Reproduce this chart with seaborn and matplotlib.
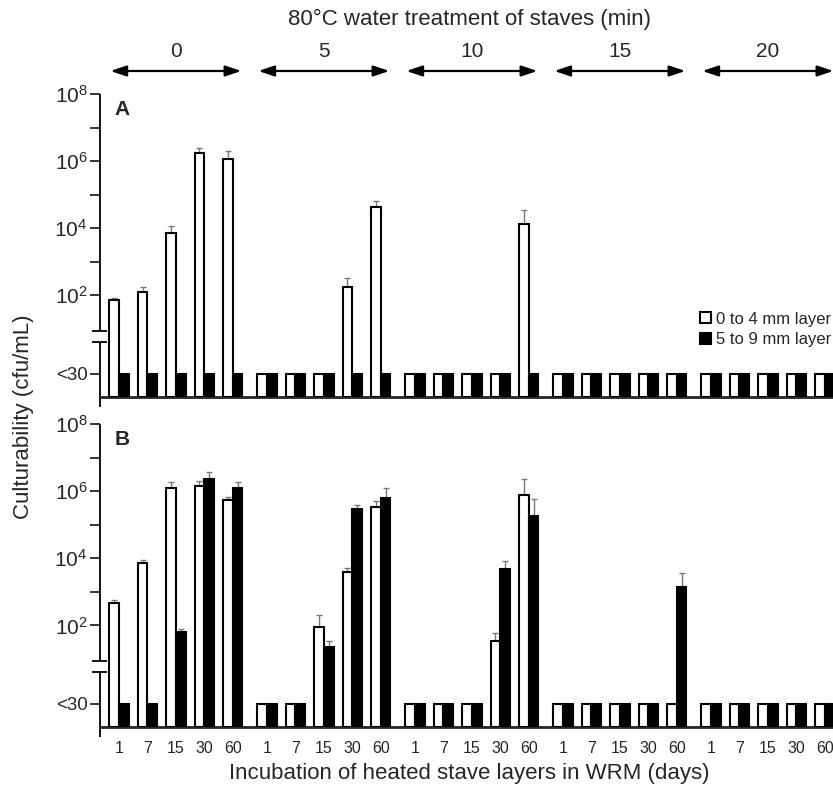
import numpy as np
import pandas as pd
import matplotlib
matplotlib.use("Agg")
import matplotlib.pyplot as plt
from matplotlib.patches import Patch
from matplotlib.transforms import blended_transform_factory
import seaborn as sns

# ---- data -------------------------------------------------------------
treatment_min = [0, 5, 10, 15, 20]          # 80 °C water treatment of staves
incubation_days = [1, 7, 15, 30, 60]         # incubation in WRM
layers = ["0 to 4 mm layer", "5 to 9 mm layer"]

# cfu/mL, ordered by treatment then incubation day; 0 = below detection (<30)
a_outer = [70, 125, 7000, 1.7e6, 1.15e6,
           0, 0, 0, 175, 4.3e4,
           0, 0, 0, 0, 1.3e4,
           0, 0, 0, 0, 0,
           0, 0, 0, 0, 0]
a_outer_sd = [15, 50, 4500, 7e5, 8.5e5,
              0, 0, 0, 150, 2.2e4,
              0, 0, 0, 0, 2.1e4,
              0, 0, 0, 0, 0,
              0, 0, 0, 0, 0]
a_inner = [0] * 25
a_inner_sd = [0] * 25

b_outer = [480, 7400, 1.25e6, 1.45e6, 5.5e5,
           0, 0, 90, 4000, 3.4e5,
           0, 0, 0, 34, 7.8e5,
           0, 0, 0, 0, 0,
           0, 0, 0, 0, 0]
b_outer_sd = [90, 1700, 6e5, 5.5e5, 1.3e5,
              0, 0, 110, 1250, 1.7e5,
              0, 0, 0, 24, 1.5e6,
              0, 0, 0, 0, 0,
              0, 0, 0, 0, 0]
b_inner = [0, 0, 62, 2.3e6, 1.23e6,
           0, 0, 22, 2.95e5, 6.3e5,
           0, 0, 0, 4900, 1.8e5,
           0, 0, 0, 0, 1350,
           0, 0, 0, 0, 0]
b_inner_sd = [0, 0, 14, 1.4e6, 6.3e5,
              0, 0, 12, 9.5e4, 6e5,
              0, 0, 0, 3600, 4.1e5,
              0, 0, 0, 0, 2350,
              0, 0, 0, 0, 0]

# ---- axis geometry (log10 units) ---------------------------------------
BASE = -1.03        # level of the x-axis line
LOD_POS = -0.34     # level of the "<30" detection-limit mark
BREAK = (0.62, 0.95)
TOP = 8
GROUP_STEP = 5.2
BAR_W = 0.34


def axis_level(v):
    v = np.asarray(v, float)
    safe = np.where(v > 0, v, 1.0)
    return np.where(v > 0, np.log10(safe), LOD_POS) - BASE


def make_frame(outer, outer_sd, inner, inner_sd):
    rows = []
    for layer, vals, sds in ((layers[0], outer, outer_sd),
                             (layers[1], inner, inner_sd)):
        for k, (v, s) in enumerate(zip(vals, sds)):
            g, i = divmod(k, len(incubation_days))
            rows.append(dict(treatment=treatment_min[g], day=incubation_days[i],
                             x=g * GROUP_STEP + i, layer=layer, value=v, sd=s))
    df = pd.DataFrame(rows)
    df["level"] = axis_level(df["value"])
    df["upper"] = axis_level(df["value"] + df["sd"])
    return df


df_a = make_frame(a_outer, a_outer_sd, a_inner, a_inner_sd)
df_b = make_frame(b_outer, b_outer_sd, b_inner, b_inner_sd)

# ---- style ---------------------------------------------------------------
sns.set_style("ticks")
plt.rcParams["font.family"] = ["Liberation Sans", "DejaVu Sans"]
plt.rcParams["mathtext.fontset"] = "custom"
plt.rcParams["mathtext.rm"] = "Liberation Sans"
plt.rcParams["mathtext.it"] = "Liberation Sans:italic"
plt.rcParams["mathtext.bf"] = "Liberation Sans:bold"

fig = plt.figure(figsize=(8.33, 7.87), dpi=100)
ax_a = fig.add_axes([0.12, 0.4956, 0.88, 0.385])
ax_b = fig.add_axes([0.12, 0.0762, 0.88, 0.385])

group_x = [g * GROUP_STEP for g in range(len(treatment_min))]
all_x = [gx + i for gx in group_x for i in range(len(incubation_days))]

for ax, df, letter in ((ax_a, df_a, "A"), (ax_b, df_b, "B")):
    sns.barplot(data=df, x="x", y="level", hue="layer", hue_order=layers,
                palette=["white", "black"], native_scale=True,
                width=2 * BAR_W, saturation=1, edgecolor="black",
                linewidth=1.5, errorbar=None, legend=False, ax=ax, zorder=3)

    # upper error bars from the standard deviations
    bars = sorted(ax.patches, key=lambda p: p.get_x())
    ordered = df.sort_values(["x", "layer"]).reset_index(drop=True)
    cx = np.array([b.get_x() + b.get_width() / 2 for b in bars])
    top = ordered["level"].to_numpy()
    up = ordered["upper"].to_numpy() - top
    m = ordered["sd"].to_numpy() > 0
    ax.errorbar(cx[m], top[m], yerr=[np.zeros(m.sum()), up[m]], fmt="none",
                ecolor="#7a7a7a", elinewidth=1.0, capsize=2.2, capthick=1.0,
                zorder=2)

    ax.set_xlim(-0.667, 25.09)
    ax.set_ylim(0, TOP - BASE)
    ax.set_xlabel("")
    ax.set_ylabel("")
    for side in ("top", "right", "left"):
        ax.spines[side].set_visible(False)
    ax.spines["bottom"].set_linewidth(2)

    yt = [LOD_POS - BASE] + [d - BASE for d in range(2, TOP + 1)]
    yl = ["<30"] + [f"$10^{{{d}}}$" if d % 2 == 0 else "" for d in range(2, TOP + 1)]
    ax.set_yticks(yt, yl)
    ax.tick_params(axis="y", length=7, width=1.3, pad=2, labelsize=13.5)
    for lbl in ax.get_yticklabels():
        if lbl.get_text().startswith("$"):
            lbl.set_fontsize(15)

    # broken y-axis line
    tr = blended_transform_factory(ax.transAxes, ax.transData)
    kw = dict(transform=tr, color="black", lw=1.3, clip_on=False,
              solid_capstyle="butt")
    ax.plot([0, 0], [BREAK[1] - BASE, TOP - BASE], **kw)
    ax.plot([0, 0], [-0.3, BREAK[0] - BASE], **kw)
    for b in BREAK:
        ax.plot([-0.011, 0.009], [b - BASE, b - BASE], **kw)

    ax.text(0.030, 0.95, letter, transform=ax.transAxes, fontsize=15,
            fontweight="bold", ha="center", va="center")

ax_a.set_xticks([])
ax_b.set_xticks(all_x, [str(d) for _ in treatment_min for d in incubation_days])
ax_b.tick_params(axis="x", length=0, pad=10, labelsize=11.5)

# treatment-time arrows above panel A
tr_top = blended_transform_factory(ax_a.transData, fig.transFigure)
for gx, t in zip(group_x, treatment_min):
    ax_a.annotate("", xy=(gx + 4.3, 0.9098), xytext=(gx - 0.3, 0.9098),
                  xycoords=tr_top, textcoords=tr_top, annotation_clip=False,
                  arrowprops=dict(arrowstyle="<|-|>,head_length=0.95,head_width=0.32",
                                  color="black", lw=1.6, shrinkA=0, shrinkB=0,
                                  mutation_scale=10))
    ax_a.text(gx + 2, 0.934, str(t), transform=tr_top, ha="center",
              va="center", fontsize=15)

fig.text(0.564, 0.975, "80°C water treatment of staves (min)", ha="center",
         va="center", fontsize=16)
fig.text(0.563, 0.017, "Incubation of heated stave layers in WRM (days)",
         ha="center", va="center", fontsize=16)
fig.text(0.028, 0.47, "Culturability (cfu/mL)", rotation=90, ha="center",
         va="center", fontsize=16)

handles = [Patch(facecolor="white", edgecolor="black", linewidth=1.5),
           Patch(facecolor="black", edgecolor="black", linewidth=1.5)]
fig.legend(handles, layers, loc="upper left", bbox_to_anchor=(0.840, 0.604),
           frameon=False, fontsize=12, handlelength=0.65, handleheight=0.65,
           handletextpad=0.35, labelspacing=0.35, borderpad=0, borderaxespad=0)

fig.savefig("out.png", dpi=100)
